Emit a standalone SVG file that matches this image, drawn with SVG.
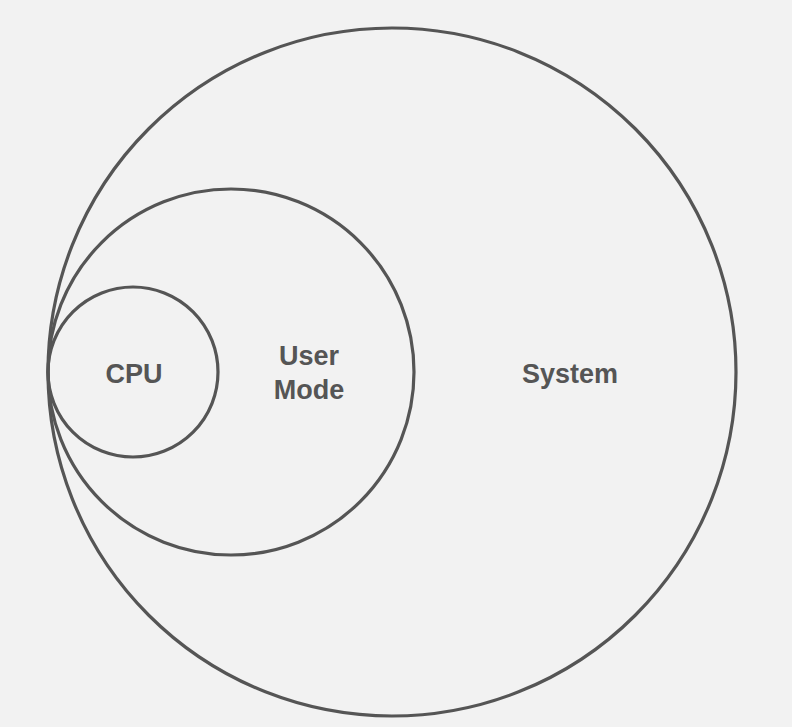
<svg xmlns="http://www.w3.org/2000/svg" width="792" height="727" viewBox="0 0 792 727">
<style>
.c{fill:none;stroke:#555;stroke-width:3.2}
.t{font-family:"Liberation Sans",Arial,sans-serif;font-weight:bold;font-size:27px;fill:#555;text-anchor:middle}
</style>
<rect width="792" height="727" fill="#f2f2f2"/>
<g id="system"><circle class="c" cx="392" cy="372" r="344"/><text class="t" x="570" y="383">System</text></g>
<g id="usermode"><circle class="c" cx="231" cy="372" r="183"/><text class="t" x="309" y="365">User</text><text class="t" x="309" y="399">Mode</text></g>
<g id="cpu"><circle class="c" cx="133" cy="372" r="85"/><text class="t" x="134" y="383">CPU</text></g>
<g id="connectors"/>
</svg>
